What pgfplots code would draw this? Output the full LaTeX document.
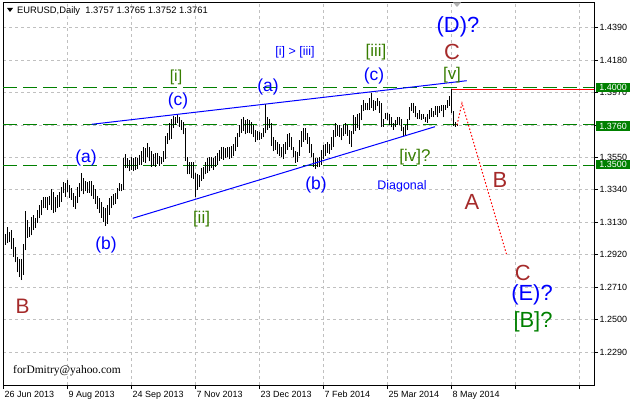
\documentclass[border=0pt]{standalone}
\usepackage{pgfplots}
\pgfplotsset{compat=1.18}
\usepackage{pgfplotstable}
\usepackage{fontspec}
\setmainfont{Liberation Sans}
\newfontfamily\seriffont{Liberation Serif}
\definecolor{wblue}{RGB}{0,0,255}
\definecolor{wbrown}{RGB}{165,42,42}
\definecolor{wolive}{RGB}{55,125,0}
\definecolor{wgreen}{RGB}{0,128,0}
\definecolor{gridgray}{RGB}{192,192,192}
\newcommand{\fs}[1]{\fontsize{#1}{#1}\selectfont}
\pgfplotstableread{
i lo hi
0 1.2985 1.3095
1 1.2985 1.3055
2 1.2995 1.3100
3 1.3000 1.3070
4 1.2960 1.3080
5 1.2905 1.3030
6 1.2870 1.2970
7 1.2805 1.2905
8 1.2775 1.2890
9 1.2755 1.2895
10 1.2790 1.2990
11 1.2950 1.3205
12 1.3030 1.3145
13 1.3035 1.3100
14 1.3045 1.3165
15 1.3080 1.3175
16 1.3095 1.3160
17 1.3125 1.3210
18 1.3155 1.3240
19 1.3175 1.3275
20 1.3220 1.3295
21 1.3225 1.3295
22 1.3210 1.3295
23 1.3240 1.3300
24 1.3210 1.3345
25 1.3190 1.3325
26 1.3195 1.3295
27 1.3220 1.3305
28 1.3230 1.3325
29 1.3260 1.3360
30 1.3320 1.3390
31 1.3295 1.3385
32 1.3325 1.3405
33 1.3290 1.3370
34 1.3275 1.3355
35 1.3230 1.3320
36 1.3215 1.3300
37 1.3255 1.3360
38 1.3295 1.3385
39 1.3330 1.3452
40 1.3310 1.3420
41 1.3330 1.3400
42 1.3320 1.3390
43 1.3320 1.3400
44 1.3300 1.3400
45 1.3280 1.3370
46 1.3250 1.3345
47 1.3215 1.3300
48 1.3190 1.3290
49 1.3160 1.3260
50 1.3130 1.3230
51 1.3105 1.3220
52 1.3120 1.3240
53 1.3180 1.3290
54 1.3220 1.3300
55 1.3240 1.3310
56 1.3250 1.3320
57 1.3280 1.3355
58 1.3330 1.3385
59 1.3330 1.3380
60 1.3340 1.3545
61 1.3480 1.3570
62 1.3480 1.3545
63 1.3460 1.3535
64 1.3470 1.3550
65 1.3460 1.3545
66 1.3470 1.3550
67 1.3475 1.3545
68 1.3500 1.3565
69 1.3500 1.3590
70 1.3520 1.3620
71 1.3515 1.3610
72 1.3550 1.3645
73 1.3525 1.3620
74 1.3490 1.3590
75 1.3495 1.3570
76 1.3490 1.3580
77 1.3510 1.3580
78 1.3495 1.3560
79 1.3505 1.3555
80 1.3520 1.3590
81 1.3540 1.3690
82 1.3640 1.3710
83 1.3660 1.3770
84 1.3670 1.3800
85 1.3740 1.3820
86 1.3760 1.3810
87 1.3770 1.3832
88 1.3750 1.3810
89 1.3730 1.3790
90 1.3700 1.3780
91 1.3530 1.3740
92 1.3440 1.3550
93 1.3440 1.3520
94 1.3420 1.3520
95 1.3410 1.3520
96 1.3295 1.3450
97 1.3340 1.3440
98 1.3360 1.3435
99 1.3400 1.3480
100 1.3410 1.3490
101 1.3440 1.3520
102 1.3450 1.3545
103 1.3460 1.3550
104 1.3480 1.3555
105 1.3470 1.3545
106 1.3490 1.3560
107 1.3500 1.3580
108 1.3530 1.3600
109 1.3540 1.3615
110 1.3535 1.3620
111 1.3545 1.3610
112 1.3550 1.3620
113 1.3540 1.3615
114 1.3545 1.3625
115 1.3560 1.3640
116 1.3590 1.3680
117 1.3620 1.3710
118 1.3680 1.3760
119 1.3710 1.3800
120 1.3720 1.3810
121 1.3700 1.3795
122 1.3710 1.3800
123 1.3705 1.3790
124 1.3700 1.3780
125 1.3680 1.3760
126 1.3650 1.3730
127 1.3660 1.3720
128 1.3665 1.3715
129 1.3670 1.3710
130 1.3680 1.3740
131 1.3705 1.3893
132 1.3730 1.3810
133 1.3740 1.3800
134 1.3625 1.3775
135 1.3590 1.3680
136 1.3600 1.3665
137 1.3570 1.3650
138 1.3560 1.3640
139 1.3555 1.3620
140 1.3540 1.3640
141 1.3570 1.3650
142 1.3600 1.3700
143 1.3620 1.3705
144 1.3600 1.3680
145 1.3550 1.3620
146 1.3515 1.3590
147 1.3520 1.3585
148 1.3560 1.3660
149 1.3620 1.3720
150 1.3650 1.3740
151 1.3660 1.3740
152 1.3640 1.3710
153 1.3580 1.3680
154 1.3550 1.3640
155 1.3490 1.3580
156 1.3477 1.3545
157 1.3485 1.3545
158 1.3490 1.3550
159 1.3500 1.3600
160 1.3540 1.3630
161 1.3560 1.3640
162 1.3580 1.3650
163 1.3570 1.3640
164 1.3600 1.3680
165 1.3620 1.3730
166 1.3680 1.3770
167 1.3690 1.3760
168 1.3680 1.3760
169 1.3660 1.3740
170 1.3690 1.3760
171 1.3700 1.3770
172 1.3690 1.3760
173 1.3640 1.3730
174 1.3620 1.3720
175 1.3700 1.3825
176 1.3720 1.3810
177 1.3740 1.3830
178 1.3730 1.3840
179 1.3790 1.3890
180 1.3850 1.3920
181 1.3860 1.3905
182 1.3855 1.3905
183 1.3860 1.3935
184 1.3870 1.3967
185 1.3850 1.3920
186 1.3860 1.3915
187 1.3880 1.3935
188 1.3840 1.3915
189 1.3750 1.3900
190 1.3750 1.3800
191 1.3800 1.3840
192 1.3790 1.3840
193 1.3760 1.3830
194 1.3745 1.3810
195 1.3730 1.3775
196 1.3745 1.3795
197 1.3760 1.3810
198 1.3760 1.3810
199 1.3720 1.3800
200 1.3690 1.3750
201 1.3690 1.3760
202 1.3725 1.3800
203 1.3795 1.3875
204 1.3850 1.3900
205 1.3840 1.3905
206 1.3810 1.3880
207 1.3800 1.3840
208 1.3800 1.3860
209 1.3795 1.3830
210 1.3800 1.3830
211 1.3780 1.3815
212 1.3775 1.3830
213 1.3800 1.3860
214 1.3815 1.3870
215 1.3810 1.3850
216 1.3825 1.3880
217 1.3810 1.3880
218 1.3840 1.3880
219 1.3850 1.3890
220 1.3810 1.3890
221 1.3860 1.3890
222 1.3870 1.3925
223 1.3885 1.3950
224 1.3835 1.3993
225 1.3752 1.3850
226 1.3750 1.3780
227 1.3752 1.3765
}\bars
\begin{document}
\begin{tikzpicture}[x=1bp,y=1bp]
\useasboundingbox (0,0) rectangle (630,402);
\begin{axis}[at={(3bp,17bp)}, anchor=south west,
  width=591bp, height=382bp, scale only axis,
  xmin=-0.25, xmax=295.25, ymin=1.20765, ymax=1.45499,
  axis line style={black, line width=1bp},
  xtick={0,32,64,96,128,160,192,224,256,288},
  xticklabels={26 Jun 2013,9 Aug 2013,24 Sep 2013,7 Nov 2013,23 Dec 2013,7 Feb 2014,25 Mar 2014,8 May 2014,{},{}},
  ytick={1.229,1.250,1.271,1.292,1.313,1.334,1.355,1.376,1.397,1.418,1.439},
  yticklabels={1.2290,1.2500,1.2710,1.2920,1.3130,1.3340,1.3550,1.3760,1.3970,1.4180,1.4390},
  xtick pos=left, ytick pos=right, yticklabel pos=right, tick align=outside,
  major tick length=4bp, tick style={black, line width=0.8bp},
  grid=major, major grid style={gridgray, dash pattern=on 3bp off 3bp, line width=0.8bp},
  xticklabel style={anchor=north west, inner sep=1bp, yshift=-1bp, font=\fs{9}},
  yticklabel style={anchor=west, inner sep=1.5bp, font=\fs{9}},
  clip=true]
% horizontal levels
\addplot[wgreen, line width=1bp, dash pattern=on 14bp off 6bp, forget plot] coordinates {(-0.25,1.4000) (295.25,1.4000)};
\addplot[wgreen, line width=1bp, dash pattern=on 14bp off 6bp, forget plot] coordinates {(-0.25,1.3760) (295.25,1.3760)};
\addplot[wgreen, line width=1bp, dash pattern=on 14bp off 6bp, forget plot] coordinates {(-0.25,1.3500) (295.25,1.3500)};
\addplot[red, line width=1bp, forget plot] coordinates {(224,1.3993) (295.25,1.3993)};
% bars
\addplot[draw=none, mark=none, forget plot,
  error bars/.cd, y dir=plus, y explicit, error mark=none,
  error bar style={draw=black, solid, line width=1.1bp}]
  table[x=i, y=lo, y error plus expr=\thisrow{hi}-\thisrow{lo}] {\bars};
% trendlines
\addplot[wblue, line width=1bp, forget plot] coordinates {(44.1,1.37645) (231.6,1.40468)};
\addplot[wblue, line width=1bp, forget plot] coordinates {(64.6,1.31559) (215.75,1.3749)};
% projected path
\addplot[red, line width=1bp, dash pattern=on 1.5bp off 2bp, forget plot] coordinates {(226.75,1.3760) (229.25,1.3902) (251.75,1.2912)};
\end{axis}
% header
\fill (7,394) -- (13,394) -- (10,390) -- cycle;
\node[anchor=west, inner sep=0, font=\fs{9.4}] at (17,391) {EURUSD,Daily\ \ 1.3757 1.3765 1.3752 1.3761};
\fill[gray!60] (453,399.5) -- (461,399.5) -- (457,395) -- cycle;
% price boxes
\node[fill=wgreen, text=white, font=\fs{9}, inner sep=1bp, minimum height=9.5bp, minimum width=34bp, anchor=west] at (596,314.5) {1.4000};
\node[fill=wgreen, text=white, font=\fs{9}, inner sep=1bp, minimum height=9.5bp, minimum width=34bp, anchor=west] at (596,276) {1.3760};
\node[fill=wgreen, text=white, font=\fs{9}, inner sep=1bp, minimum height=9.5bp, minimum width=34bp, anchor=west] at (596,237.5) {1.3500};
% wave labels
\begin{scope}[every node/.style={inner sep=0}]
\node[text=wblue, font=\fs{12.5}] at (295,350) {[i] > [iii]};
\node[text=wolive, font=\fs{16}] at (176,325) {[i]};
\node[text=wblue, font=\fs{17.5}] at (178,301) {(c)};
\node[text=wblue, font=\fs{17.5}] at (86,244) {(a)};
\node[text=wblue, font=\fs{17.5}] at (268,315) {(a)};
\node[text=wblue, font=\fs{17.5}] at (106,157) {(b)};
\node[text=wolive, font=\fs{17}] at (201.5,183) {[ii]};
\node[text=wblue, font=\fs{17.5}] at (316,217) {(b)};
\node[text=wblue, font=\fs{12.5}] at (402,216) {Diagonal};
\node[text=wolive, font=\fs{17}] at (415,245) {[iv]?};
\node[text=wblue, font=\fs{17.5}] at (374,326) {(c)};
\node[text=wolive, font=\fs{17}] at (376,349.5) {[iii]};
\node[text=wblue, font=\fs{22}] at (458,375) {(D)?};
\node[text=wbrown, font=\fs{22}] at (452,350) {C};
\node[text=wolive, font=\fs{17}] at (452,327) {[v]};
\node[text=wbrown, font=\fs{21}] at (22.7,95.3) {B};
\node[text=wbrown, font=\fs{22}] at (472,200.3) {A};
\node[text=wbrown, font=\fs{22}] at (500,222) {B};
\node[text=wbrown, font=\fs{22}] at (522.7,129) {C};
\node[text=wblue, font=\fs{22}] at (532,107) {(E)?};
\node[text=wgreen, font=\fs{22}] at (533,80.3) {[B]?};
\node[text=black, font=\seriffont\fs{11.5}] at (67,31) {forDmitry@yahoo.com};
\end{scope}
\end{tikzpicture}
\end{document}
